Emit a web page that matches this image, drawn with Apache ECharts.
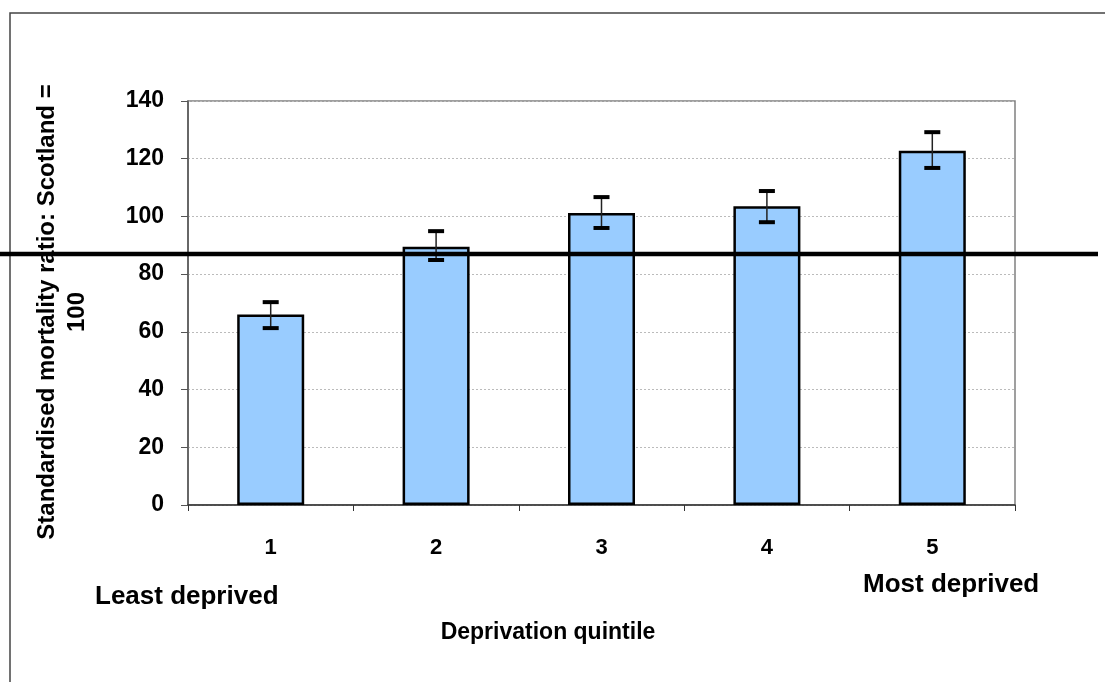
<!DOCTYPE html>
<html>
<head>
<meta charset="utf-8">
<script src="https://cdn.jsdelivr.net/npm/echarts@6/dist/echarts.min.js"></script>
<style>html,body{margin:0;padding:0;background:#fff;}#c{width:1105px;height:682px;}</style>
</head>
<body>
<div id="c"></div>
<script>
var categories = ['1', '2', '3', '4', '5'];
var smr = [66, 89.5, 101.2, 103.5, 122.8];
var ciLow = [61.3, 84.9, 96.0, 98.0, 116.8];
var ciHigh = [70.3, 94.9, 106.7, 108.8, 129.2];
var referenceValue = 87;
var yTicks = [0, 20, 40, 60, 80, 100, 120, 140];
var yTitle = 'Standardised mortality ratio: Scotland =\n100';
var xTitle = 'Deprivation quintile';

var FONT = '"Liberation Sans", Arial, Helvetica, sans-serif';
var chart = echarts.init(document.getElementById('c'));
var errData = categories.map(function (c, i) { return [i, ciLow[i], ciHigh[i]]; });

chart.setOption({
  animation: false,
  backgroundColor: '#fff',
  grid: { left: 188, right: 90, top: 101, bottom: 177, show: true, borderColor: '#808080', borderWidth: 1.5, backgroundColor: 'transparent' },
  xAxis: {
    type: 'category', data: categories,
    axisLine: { lineStyle: { color: '#333', width: 1.5 } },
    axisTick: { show: true, length: 6, lineStyle: { color: '#333' } },
    axisLabel: { margin: 32, fontSize: 22, fontWeight: 'bold', color: '#000', fontFamily: FONT }
  },
  yAxis: {
    type: 'value', min: yTicks[0], max: yTicks[yTicks.length - 1], interval: 20,
    axisLine: { show: true, lineStyle: { color: '#555', width: 1.5 } },
    axisTick: { show: true, length: 7, lineStyle: { color: '#555' } },
    splitLine: { lineStyle: { color: '#bbb', type: [2, 2], width: 1 } },
    axisLabel: { margin: 24, fontSize: 23, fontWeight: 'bold', color: '#000', fontFamily: FONT }
  },
  series: [
    {
      type: 'bar', data: smr, barWidth: 67,
      itemStyle: { color: '#99CCFF', borderColor: '#000', borderWidth: 2.5 }
    },
    {
      type: 'custom', data: errData, z: 10,
      renderItem: function (params, api) {
        var x = api.value(0);
        var lo = api.coord([x, api.value(1)]);
        var hi = api.coord([x, api.value(2)]);
        var hw = 8;
        return {
          type: 'group',
          children: [
            { type: 'line', shape: { x1: lo[0], y1: lo[1], x2: hi[0], y2: hi[1] }, style: { stroke: '#222', lineWidth: 1.5 } },
            { type: 'line', shape: { x1: lo[0] - hw, y1: lo[1], x2: lo[0] + hw, y2: lo[1] }, style: { stroke: '#000', lineWidth: 4 } },
            { type: 'line', shape: { x1: hi[0] - hw, y1: hi[1], x2: hi[0] + hw, y2: hi[1] }, style: { stroke: '#000', lineWidth: 4 } }
          ]
        };
      }
    }
  ]
});

var refY = chart.convertToPixel({ yAxisIndex: 0 }, referenceValue);
chart.setOption({
  graphic: [
    { type: 'rect', shape: { x: 10, y: 13, width: 1200, height: 800 }, style: { fill: null, stroke: '#444', lineWidth: 1.5 }, silent: true, z: 0 },
    { type: 'line', shape: { x1: 0, y1: refY, x2: 1098, y2: refY }, style: { stroke: '#000', lineWidth: 4.5 }, z: 100 },
    { type: 'text', x: 62, y: 312, rotation: Math.PI / 2,
      style: { x: 0, y: 0, text: yTitle, font: 'bold 24px ' + FONT, fill: '#000', align: 'center', verticalAlign: 'middle', lineHeight: 30 } },
    { type: 'text', style: { x: 548, y: 633, text: xTitle, font: 'bold 23px ' + FONT, fill: '#000', align: 'center', verticalAlign: 'middle' } },
    { type: 'text', style: { x: 95, y: 597, text: 'Least deprived', font: 'bold 26px ' + FONT, fill: '#000', verticalAlign: 'middle' } },
    { type: 'text', style: { x: 863, y: 585, text: 'Most deprived', font: 'bold 26px ' + FONT, fill: '#000', verticalAlign: 'middle' } }
  ]
});
</script>
</body>
</html>
